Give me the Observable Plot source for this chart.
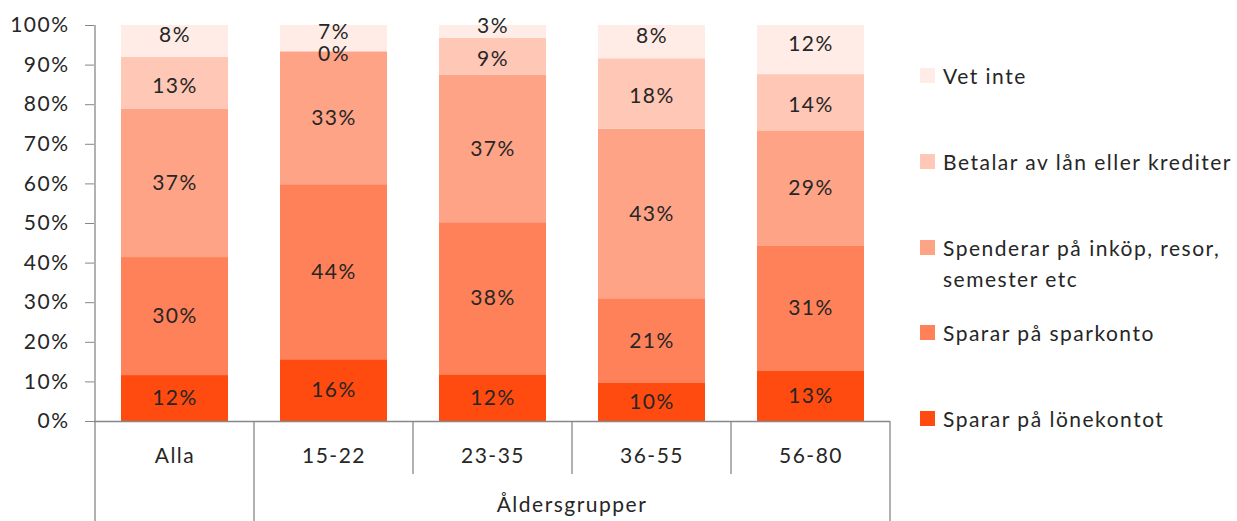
<!DOCTYPE html>
<html>
<head>
<meta charset="utf-8">
<script src="https://cdn.jsdelivr.net/npm/d3@7"></script>
<script src="https://cdn.jsdelivr.net/npm/@observablehq/plot@0.6"></script>
<style>
  html, body { margin: 0; padding: 0; background: #fff; overflow: hidden; }
  #wrap { position: relative; width: 1237px; height: 521px; overflow: hidden; font-family: Lato, "Noto Sans", sans-serif; }
  .leg { position: absolute; left: 920px; display: flex; align-items: flex-start; font-size: 21px; letter-spacing: 1.5px; color: #262626; line-height: 31px; }
  .sw { width: 15px; height: 15px; margin-top: 8px; margin-right: 8px; flex: none; }
  .lt { width: 300px; }
  svg text { letter-spacing: 1.5px; }
</style>
</head>
<body>
<div id="wrap"></div>
<script>
const categories = ["Alla", "15-22", "23-35", "36-55", "56-80"];
const series = ["Sparar på lönekontot", "Sparar på sparkonto", "Spenderar på inköp, resor, semester etc", "Betalar av lån eller krediter", "Vet inte"];
const lonekonto = [11.6, 15.6, 11.8, 9.6, 12.8];
const sparkonto = [29.8, 44.2, 38.4, 21.4, 31.4];
const spenderar = [37.4, 33.4, 37.2, 42.8, 29.2];
const betalar = [13.2, 0.3, 9.4, 17.8, 14.2];
const vetInte = [8.0, 6.5, 3.2, 8.4, 12.4];
const colors = ["#ff4b0f", "#ff8159", "#ffa386", "#ffc7b5", "#ffece6"];
const yTicks = [0, 10, 20, 30, 40, 50, 60, 70, 80, 90, 100];
const groupLabel = "Åldersgrupper";
const groupMembers = ["15-22", "23-35", "36-55", "56-80"];

const values = [lonekonto, sparkonto, spenderar, betalar, vetInte];
const data = [];
series.forEach((s, si) => categories.forEach((c, ci) => data.push({series: s, cat: c, value: values[si][ci]})));
const topSeries = series[4];
const fourthSeries = series[3];

const font = "Lato, 'Noto Sans', sans-serif";
const textColor = "#262626";
const lineColor = "#878787";
const fmt = d => Math.round(d.value) + "%";
const labelMark = (filter, dy) => Plot.text(data, Plot.stackY({
  x: "cat", y: "value", z: "series", order: series,
  text: d => filter(d) ? fmt(d) : null, fill: textColor, fontSize: 21, dy
}));

const plot = Plot.plot({
  width: 1237,
  height: 521,
  marginLeft: 94,
  marginRight: 347,
  marginTop: 25,
  marginBottom: 100,
  style: {fontFamily: font, fontSize: "21px", color: textColor, background: "#fff"},
  x: {domain: categories, paddingInner: 0.33, paddingOuter: 0.165, label: null},
  y: {domain: [0, 100], label: null},
  color: {domain: series, range: colors},
  marks: [
    Plot.barY(data, Plot.stackY({x: "cat", y: "value", fill: "series", z: "series", order: series})),
    labelMark(d => d.series !== topSeries && d.series !== fourthSeries, 0),
    labelMark(d => d.series === fourthSeries, 2.5),
    labelMark(d => d.series === topSeries, -6),
    Plot.axisY({ticks: yTicks, tickFormat: d => d + "%", tickSize: 9, tickPadding: 16, stroke: lineColor, strokeOpacity: 1, fill: textColor, fontSize: 21}),
    Plot.axisX({tickSize: 0, tickPadding: 27, fill: textColor, fontSize: 21}),
    Plot.ruleY([0], {stroke: lineColor, strokeWidth: 1.3})
  ]
});

// Extra axis decoration derived from the plot's own scales
const xs = plot.scale("x");
const ys = plot.scale("y");
const gap = xs.step - xs.bandwidth;
const svg = d3.select(plot);
const yTop = ys.apply(100), yBase = ys.apply(0);
const H = 521;
const g = svg.append("g").attr("stroke", lineColor).attr("stroke-width", 1.3);
const leftEdge = xs.apply(categories[0]) - gap / 2;
const rightEdge = xs.apply(categories[categories.length - 1]) + xs.bandwidth + gap / 2;
g.append("line").attr("x1", leftEdge).attr("x2", leftEdge).attr("y1", yTop).attr("y2", H);
categories.forEach((c, i) => {
  if (i === 0) return;
  const bx = xs.apply(c) - gap / 2;
  const long = !groupMembers.includes(categories[i - 1]);
  g.append("line").attr("x1", bx).attr("x2", bx).attr("y1", yBase).attr("y2", long ? H : yBase + 53);
});
g.append("line").attr("x1", rightEdge).attr("x2", rightEdge).attr("y1", yBase).attr("y2", H);
const gStart = xs.apply(groupMembers[0]);
const gEnd = xs.apply(groupMembers[groupMembers.length - 1]) + xs.bandwidth;
svg.append("text").attr("x", (gStart + gEnd) / 2).attr("y", 512)
  .attr("text-anchor", "middle").attr("fill", textColor)
  .style("font-family", font).style("font-size", "21px").text(groupLabel);

const wrap = document.getElementById("wrap");
wrap.appendChild(plot);

// Legend (top series first)
const legendOrder = series.map((s, i) => ({s, c: colors[i]})).reverse();
legendOrder.forEach((d, i) => {
  const item = document.createElement("div");
  item.className = "leg";
  item.style.top = (60 + i * 85.75) + "px";
  const sw = document.createElement("div");
  sw.className = "sw";
  sw.style.background = d.c;
  const t = document.createElement("div");
  t.className = "lt";
  t.textContent = d.s;
  item.appendChild(sw);
  item.appendChild(t);
  wrap.appendChild(item);
});
</script>
</body>
</html>
